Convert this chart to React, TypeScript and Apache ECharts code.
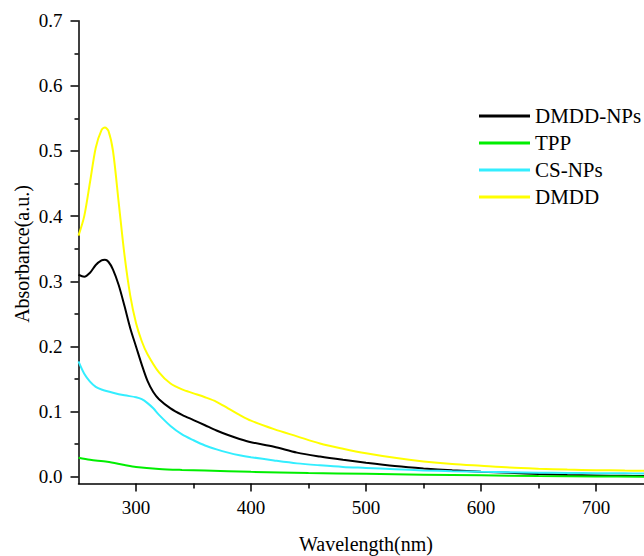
import React, { useEffect, useRef } from "react";
import * as echarts from "echarts";

const FONT = "Liberation Serif";

const seriesNames = ["DMDD-NPs", "TPP", "CS-NPs", "DMDD"];
const seriesColors = ["#000000", "#00ee00", "#33eeff", "#ffff00"];

const dmddNpsWl = [250, 255, 260, 265, 270, 273, 276, 280, 285, 290, 295, 300, 305, 310, 315, 320, 330, 340, 350, 360, 370, 380, 390, 400, 420, 440, 460, 480, 500, 525, 550, 575, 600, 625, 650, 675, 700, 725, 742];
const dmddNpsAbs = [0.310, 0.307, 0.313, 0.325, 0.332, 0.333, 0.330, 0.318, 0.294, 0.262, 0.228, 0.200, 0.172, 0.147, 0.130, 0.119, 0.105, 0.095, 0.087, 0.079, 0.071, 0.064, 0.058, 0.053, 0.046, 0.037, 0.031, 0.026, 0.0215, 0.0165, 0.0127, 0.0098, 0.0078, 0.006, 0.0043, 0.0028, 0.002, 0.0014, 0.001];

const tppWl = [250, 260, 275, 290, 300, 320, 340, 360, 400, 450, 500, 550, 600, 650, 700, 742];
const tppAbs = [0.029, 0.026, 0.023, 0.018, 0.015, 0.012, 0.0105, 0.0095, 0.0075, 0.0058, 0.0045, 0.0032, 0.0022, 0.0012, 0.0005, 0.0];

const csNpsWl = [250, 255, 260, 265, 270, 280, 290, 300, 305, 310, 315, 320, 330, 340, 350, 360, 370, 380, 390, 400, 420, 440, 460, 480, 500, 525, 550, 575, 600, 625, 650, 675, 700, 725, 742];
const csNpsAbs = [0.177, 0.158, 0.146, 0.138, 0.134, 0.129, 0.125, 0.122, 0.119, 0.113, 0.105, 0.095, 0.078, 0.065, 0.056, 0.048, 0.042, 0.037, 0.033, 0.030, 0.025, 0.0205, 0.0175, 0.015, 0.0135, 0.0115, 0.0097, 0.0085, 0.0075, 0.0068, 0.0062, 0.0058, 0.0055, 0.0052, 0.005];

const dmddWl = [250, 255, 260, 265, 270, 273, 276, 280, 285, 290, 295, 300, 305, 310, 320, 330, 340, 350, 360, 370, 380, 390, 400, 420, 440, 460, 480, 500, 525, 550, 575, 600, 625, 650, 675, 700, 725, 742];
const dmddAbs = [0.370, 0.400, 0.452, 0.505, 0.532, 0.536, 0.531, 0.500, 0.420, 0.340, 0.278, 0.236, 0.208, 0.188, 0.160, 0.143, 0.134, 0.128, 0.122, 0.115, 0.105, 0.095, 0.086, 0.073, 0.062, 0.051, 0.043, 0.036, 0.029, 0.0235, 0.0195, 0.0167, 0.014, 0.0123, 0.011, 0.0101, 0.0095, 0.0092];

const xMajorTicks = [300, 400, 500, 600, 700];
const xMinorTicks = [350, 450, 550, 650];
const yMajorTicks = [0, 0.1, 0.2, 0.3, 0.4, 0.5, 0.6, 0.7];
const yMinorTicks = [0.05, 0.15, 0.25, 0.35, 0.45, 0.55, 0.65];

const xTitle = "Wavelength(nm)";
const yTitle = "Absorbance(a.u.)";

const pair = (xs: number[], ys: number[]) => xs.map((x, i) => [x, ys[i]]);

export default function App() {
  const ref = useRef<HTMLDivElement>(null);
  useEffect(() => {
    if (!ref.current) return;
    const chart = echarts.init(ref.current, undefined, { renderer: "svg" });
    const datasets = [
      pair(dmddNpsWl, dmddNpsAbs),
      pair(tppWl, tppAbs),
      pair(csNpsWl, csNpsAbs),
      pair(dmddWl, dmddAbs),
    ];
    const axisLineStyle = { color: "#000", width: 1.5 };
    const xMin = 250;
    const xMax = 741.7;
    const yMin = -0.0104;
    const yMax = 0.7;
    chart.setOption({
      animation: false,
      backgroundColor: "#ffffff",
      textStyle: { fontFamily: FONT },
      grid: { left: 78.5, right: 0, top: 20.7, bottom: 72.5, containLabel: false },
      xAxis: [
        {
          type: "value",
          min: xMin,
          max: xMax,
          position: "bottom",
          axisLine: { show: true, onZero: false, lineStyle: axisLineStyle },
          axisTick: { show: true, customValues: xMajorTicks, length: 8, lineStyle: axisLineStyle },
          axisLabel: { customValues: xMajorTicks, fontSize: 19, color: "#000", fontFamily: FONT, margin: 14 },
          splitLine: { show: false },
        },
        {
          type: "value",
          min: xMin,
          max: xMax,
          position: "bottom",
          offset: 0,
          axisLine: { show: false, onZero: false },
          axisTick: { show: true, customValues: xMinorTicks, length: 5, lineStyle: axisLineStyle },
          axisLabel: { show: false },
          splitLine: { show: false },
        },
      ],
      yAxis: [
        {
          type: "value",
          min: yMin,
          max: yMax,
          position: "left",
          axisLine: { show: true, onZero: false, lineStyle: axisLineStyle },
          axisTick: { show: true, customValues: yMajorTicks, length: 8, lineStyle: axisLineStyle },
          axisLabel: {
            customValues: yMajorTicks,
            fontSize: 19,
            color: "#000",
            fontFamily: FONT,
            margin: 16,
            formatter: (v: number) => v.toFixed(1),
          },
          splitLine: { show: false },
        },
        {
          type: "value",
          min: yMin,
          max: yMax,
          position: "left",
          offset: 0,
          axisLine: { show: false, onZero: false },
          axisTick: { show: true, customValues: yMinorTicks, length: 4, lineStyle: axisLineStyle },
          axisLabel: { show: false },
          splitLine: { show: false },
        },
      ],
      legend: {
        orient: "vertical",
        left: 479,
        top: 105.5,
        padding: 0,
        icon: "rect",
        itemWidth: 51,
        itemHeight: 3,
        itemGap: 6,
        textStyle: { fontSize: 21, lineHeight: 21, color: "#000", fontFamily: FONT },
        data: seriesNames,
      },
      series: seriesNames.map((name, i) => ({
        name,
        type: "line",
        data: datasets[i],
        smooth: 0.3,
        showSymbol: false,
        symbol: "none",
        clip: true,
        lineStyle: { color: seriesColors[i], width: 2 },
        itemStyle: { color: seriesColors[i] },
        z: 2 + i,
      })),
      graphic: [
        {
          type: "text",
          x: 366,
          y: 544,
          style: {
            text: xTitle,
            fontSize: 20,
            fontFamily: FONT,
            fill: "#000",
            textAlign: "center",
            textVerticalAlign: "middle",
          },
        },
        {
          type: "text",
          x: 22,
          y: 254,
          rotation: Math.PI / 2,
          style: {
            text: yTitle,
            fontSize: 20,
            fontFamily: FONT,
            fill: "#000",
            textAlign: "center",
            textVerticalAlign: "middle",
          },
        },
      ],
    });
    return () => chart.dispose();
  }, []);
  return (
    <div
      ref={ref}
      style={{ position: "absolute", left: 0, top: 0, width: 644, height: 556, background: "#fff" }}
    />
  );
}
